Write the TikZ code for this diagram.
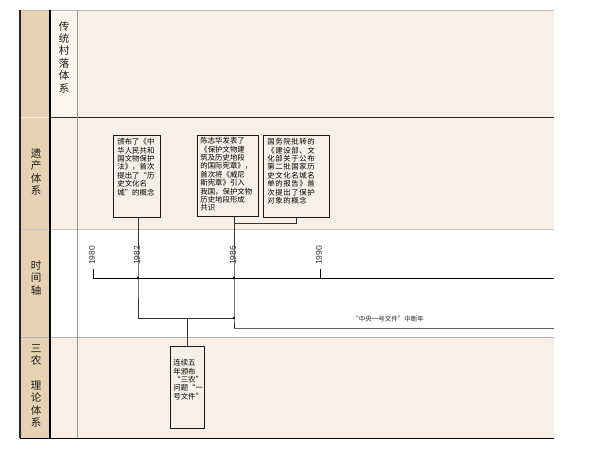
\documentclass[tikz,border=0pt]{standalone}
\usepackage{fontspec}
\setmainfont{Liberation Sans}
\newfontfamily\cjk{Noto Sans CJK SC}
\newcommand\boxtextfont{\cjk\fontsize{7.4}{8.4}\selectfont}
\definecolor{tanc}{HTML}{E6D2B2}
\definecolor{creamc}{HTML}{F8F0E6}
\definecolor{creaml}{HTML}{FBF6F0}
\definecolor{linec}{HTML}{333333}
\begin{document}
\begin{tikzpicture}[x=1pt,y=-1pt,
  rowlabel/.style={font=\cjk\fontsize{10.5}{12.4}\selectfont, align=center, text=black!90, inner sep=0},
  evbox/.style={draw=black!90, line width=0.8pt, inner sep=0, anchor=north west},
  conn/.style={draw=linec, line width=0.7pt},
  yearlbl/.style={font=\fontsize{8.5}{9}\selectfont, rotate=90, anchor=west, inner sep=0, text=black!80},
  dot/.style={circle, fill=black, inner sep=0, minimum size=2.6pt}]
\useasboundingbox (0,0) rectangle (600,450);
% backgrounds
\fill[tanc] (20,10) rectangle (50,438);
\fill[creamc] (50,10) rectangle (554,229);
\fill[creaml] (50,10) rectangle (77,117);
\fill[white] (50,229) rectangle (554,337);
\fill[creamc] (50,337) rectangle (554,438);
% row separators
\draw[gray!55, line width=0.8pt] (20,10) -- (554,10);
\draw[white!60!tanc, line width=0.8pt] (20,117) -- (50,117);
\draw[black!85, line width=0.7pt] (50,117) -- (554,117);
\draw[gray!45, line width=0.8pt] (20,229) -- (554,229);
\draw[gray!60, line width=0.8pt] (20,337) -- (554,337);
\draw[black, line width=1pt] (20,438) -- (554,438);
% vertical borders
\draw[black!85, line width=1.2pt] (20,10) -- (20,438);
\draw[black, line width=1.2pt] (50,10) -- (50,438);
\draw[gray!80, line width=0.6pt] (77,10) -- (77,438);
% row labels
\node[rowlabel] (r1) at (64,57) {传\\统\\村\\落\\体\\系};
\node[rowlabel] (r2) at (36,172) {遗\\产\\体\\系};
\node[rowlabel] (r3) at (36,278) {时\\间\\轴};
\node[rowlabel] (r4) at (36,386) {三\\农\\ \\理\\论\\体\\系};
% timeline
\coordinate (t80) at (93,278);
\coordinate (t82) at (138,278);
\coordinate (t86) at (234,278);
\coordinate (t90) at (320,278);
\coordinate (tend) at (554,278);
\coordinate (t80top) at (93,269);
\coordinate (t90top) at (320,269);
\draw[black, line width=1pt] (t80top) -- (t80) -- (tend);
\draw[black, line width=1pt] (t90top) -- (t90);
\node[yearlbl] (y80) at (92,265) {1980};
\node[yearlbl] (y82) at (137,265) {1982};
\node[yearlbl] (y86) at (233,265) {1986};
\node[yearlbl] (y90) at (319,265) {1990};
% boxes
\node[evbox] (b1) at (113,135) {\parbox[c][82pt][t]{47pt}{\boxtextfont\leftskip=4pt\vspace*{3pt}颁布了《中\\华人民共和\\国文物保护\\法》，首次\\提出了“历\\史文化名\\城”的概念}};
\node[evbox] (b2) at (197,135) {\parbox[c][81pt][t]{61pt}{\boxtextfont\leftskip=3pt\vspace*{2pt}陈志华发表了\\《保护文物建\\筑及历史地段\\的国际宪章》，\\首次将《威尼\\斯宪章》引入\\我国，保护文物\\历史地段形成\\共识}};
\node[evbox] (b3) at (263,135) {\parbox[c][82pt][t]{66pt}{\boxtextfont\addfontfeature{LetterSpace=8}\leftskip=4pt\vspace*{3pt}国务院批转的\\《建设部、文\\化部关于公布\\第二批国家历\\史文化名城名\\单的报告》首\\次提出了保护\\对象的概念}};
\node[evbox] (b4) at (170,346) {\parbox[c][82pt][t]{34pt}{\boxtextfont\leftskip=3pt\vspace*{13pt}连续五\\年颁布\\“三农”\\问题“一\\号文件”}};
% connectors
\coordinate (j82) at (138,318);
\coordinate (j86) at (234,318);
\coordinate (j86a) at (234,223);
\coordinate (jend) at (554,328);
\draw[conn] (b1.south -| t82) -- (t82) -- (j82) -- (j86);
\draw[conn] (b2.south -| t86) -- (t86) -- (j86) -- (jend -| t86);
\draw[conn, draw=gray!75!black] (jend -| t86) -- (jend);
\draw[conn] (b3.south) -- (b3.south |- j86a) -- (j86a);
\draw[conn] (b4.north) -- (b4.north |- j82);
\node[dot] (d1) at (t82) {};
\node[dot] (d2) at (t86) {};
\node[dot] (d3) at (j86) {};
% annotation
\node[font=\cjk\fontsize{6.5}{8}\selectfont, text=black!85, inner sep=0] (ann) at (388,319) {“中央一号文件”中断年};
\end{tikzpicture}
\end{document}
